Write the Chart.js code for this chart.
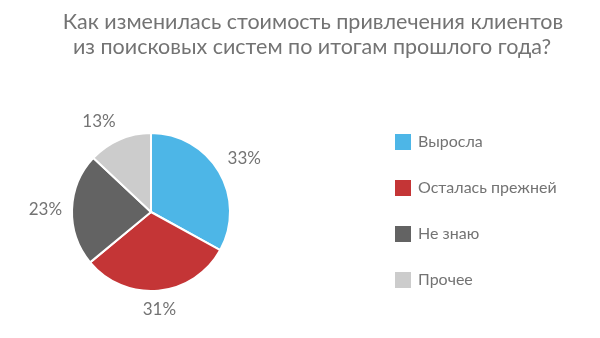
<!DOCTYPE html>
<html><head><meta charset="utf-8">
<script src="https://cdn.jsdelivr.net/npm/chart.js@4"></script>
<style>html,body{margin:0;padding:0;background:#fff}#w{width:600px;height:338px;position:relative}</style>
</head><body><div id="w"><canvas id="c" width="600" height="338"></canvas></div>
<script>
const titleLines = ["Как изменилась стоимость привлечения клиентов", "из поисковых систем по итогам прошлого года?"];
const categories = ["Выросла", "Осталась прежней", "Не знаю", "Прочее"];
const values = [33, 31, 23, 13];
const valueLabels = ["33%", "31%", "23%", "13%"];
const colors = ["#4DB6E7", "#C43536", "#636363", "#CCCCCC"];
const FONT = "Lato, 'Noto Sans', sans-serif";
const TEXT = "#737373";

const decor = {
  id: 'decor',
  afterDraw(chart) {
    const ctx = chart.ctx;
    ctx.save();
    // title
    ctx.fillStyle = TEXT;
    ctx.font = "21.5px " + FONT;
    ctx.textAlign = "center";
    ctx.textBaseline = "middle";
    ctx.fillText(titleLines[0], 313, 22);
    ctx.fillText(titleLines[1], 312, 47);
    // value labels
    const meta = chart.getDatasetMeta(0);
    ctx.font = "17px " + FONT;
    meta.data.forEach((arc, i) => {
      const p = arc.getProps(['x','y','startAngle','endAngle','outerRadius']);
      const a = (p.startAngle + p.endAngle) / 2;
      const r = p.outerRadius + 10;
      const x = p.x + Math.cos(a) * r, y = p.y + Math.sin(a) * r;
      const c = Math.cos(a), s = Math.sin(a);
      ctx.textAlign = c > 0.3 ? "left" : (c < -0.3 ? "right" : "center");
      ctx.textBaseline = s > 0.3 ? "top" : (s < -0.3 ? "bottom" : "middle");
      ctx.fillText(valueLabels[i], x, y);
    });
    // legend
    ctx.font = "16px " + FONT;
    ctx.textAlign = "left";
    ctx.textBaseline = "middle";
    categories.forEach((cat, i) => {
      const y = 142 + i * 46;
      ctx.fillStyle = colors[i];
      ctx.fillRect(395, y - 8, 16, 16);
      ctx.fillStyle = TEXT;
      ctx.fillText(cat, 418, y);
    });
    ctx.restore();
  }
};

new Chart(document.getElementById('c'), {
  type: 'pie',
  data: { labels: categories, datasets: [{ data: values, backgroundColor: colors, borderColor: '#fff', borderWidth: 2 }] },
  options: {
    responsive: false,
    animation: false,
    layout: { padding: { left: 71, right: 369, top: 132, bottom: 46 } },
    plugins: { legend: { display: false }, title: { display: false }, tooltip: { enabled: false } }
  },
  plugins: [decor]
});
</script></body></html>
